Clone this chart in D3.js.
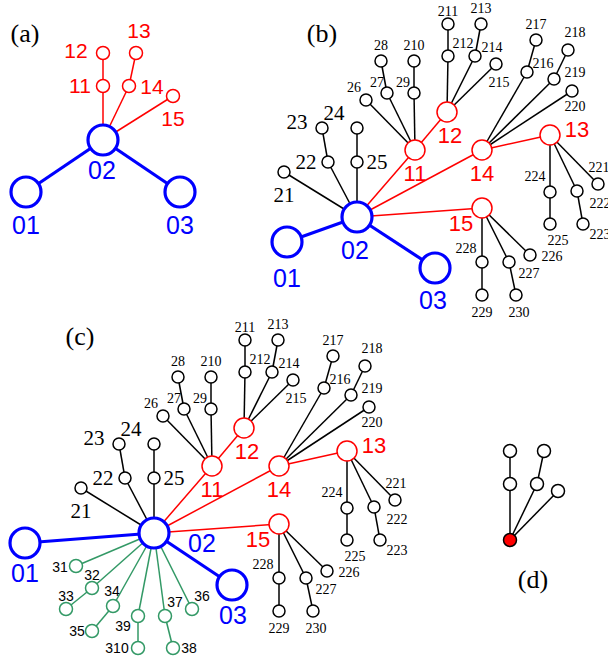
<!DOCTYPE html>
<html><head><meta charset="utf-8">
<script src="https://cdn.jsdelivr.net/npm/d3@7"></script>
<style>html,body{margin:0;padding:0;background:#fff}svg{display:block}</style>
</head><body>
<script>
// ---------- DATA ----------
const panelLabels = ["(a)", "(b)", "(c)", "(d)"];
// panel anchors (position of the root node 02 / red node in each panel)
const panelRoots = { a: [103, 140], b: [357, 217], c: [154, 533], d: [510, 540] };
const panelLabelPos = { a: [25, 33], b: [322, 33], c: [80, 336], d: [533, 579] };

// Shared tree (panels b and c), coordinates relative to node 02
const treeIds   = ["11","12","14","13","15","21","22","23","25","24","26","27","28","29","210","212","211","213","214","215","216","217","219","218","220","224","225","222","223","221","228","229","227","230","226"];
const treeX     = [58, 90, 125, 193, 125, -73, -29, -35, 0, 0, 9, 30, 24, 57, 57, 91, 91, 124, 118, 139, 170, 179, 197, 211, 215, 193, 193, 220, 226, 241, 125, 125, 152, 159, 173];
const treeY     = [-67, -105, -67, -82, -9, -45, -55, -89, -55, -89, -117, -124, -156, -124, -156, -161, -193, -193, -161, -153, -145, -177, -138, -167, -126, -25, 7, -26, 7, -33, 45, 78, 45, 78, 38];
const treeLevel = [1,1,1,1,1, 2,2,2,2,2, 3,3,3,3,3,3,3,3,3,3,3,3,3,3,3,3,3,3,3,3,3,3,3,3,3];
const treeLabelDx = [0, 3, 0, 27, -21, 0, -22, -25, 20, -23, -12, -10, 0, -11, 0, 15, 0, 0, 17, 3, 16, 0, 21, 7, 3, -15, 8, 23, 17, 1, -16, 0, 20, 3, 22];
const treeLabelDy = [23, 23, 23, -6, 15, 23, 0, -6, 0, -15, -13, -11, -16, -11, -16, -13, -13, -16, -9, 18, -9, -16, -7, -18, 15, -16, 16, 12, 10, -17, -14, 17, 11, 17, 1];
const treeEdges = [["02","11"],["11","12"],["02","14"],["14","13"],["02","15"],
  ["02","21"],["02","22"],["22","23"],["02","25"],["25","24"],
  ["11","26"],["11","27"],["27","28"],["11","29"],["29","210"],
  ["12","212"],["212","211"],["12","214"],["214","213"],["12","215"],
  ["14","216"],["216","217"],["14","219"],["219","218"],["14","220"],
  ["13","224"],["224","225"],["13","222"],["222","223"],["13","221"],
  ["15","228"],["228","229"],["15","227"],["227","230"],["15","226"]];

// Blue hub nodes per panel (relative to 02)
const hubIds = ["02","01","03"];
const hubA = { x: [0, -77, 77],  y: [0, 52, 52],  ldx: [-1, 0, 0], ldy: [30, 33, 33] };
const hubB = { x: [0, -70, 78],  y: [0, 25, 51],  ldx: [-2, 0, -2], ldy: [33, 36, 32] };
const hubC = { x: [0, -129, 78], y: [0, 10, 52],  ldx: [48, 0, 1], ldy: [10, 30, 30] };

// Panel (a): red nodes
const aIds = ["11","12","14","13","15"];
const aX = [0, 0, 26, 33, 70];
const aY = [-54, -87, -54, -87, -44];
const aLdx = [-23, -27, 23, 3, 0];
const aLdy = [-1, -3, 0, -23, 22];
const aEdges = [["02","11"],["11","12"],["02","14"],["14","13"],["02","15"]];

// Panel (c): green nodes
const gIds = ["31","32","33","34","35","39","310","37","38","36"];
const gX = [-78, -62, -88, -41, -62, -16, -16, 11, 19, 38];
const gY = [33, 55, 76, 73, 98, 83, 115, 83, 115, 76];
const gLdx = [-16, 0, 0, -1, -15, -15, -21, 10, 16, 10];
const gLdy = [1, -13, -13, -15, 0, 10, 0, -14, 0, -13];
const gEdges = [["02","31"],["02","32"],["32","33"],["02","34"],["34","35"],["02","39"],["39","310"],["02","37"],["37","38"],["02","36"]];

// Panel (d): motif
const dIds = ["r","n1","n2","n3","n4","n5"];
const dX = [0, 0, 0, 27, 34, 48];
const dY = [0, -56, -89, -56, -89, -49];
const dEdges = [["r","n1"],["n1","n2"],["r","n3"],["n3","n4"],["r","n5"]];

// ---------- STYLES ----------
const BLUE = "#0000ff", RED = "#ff0000", GREEN = "#339966", BLACK = "#000";
const SANS = "'Liberation Sans', Arial, sans-serif";
const SERIF = "'Liberation Serif', 'Times New Roman', serif";

const W = 608, H = 662;
const svg = d3.select("body").append("svg").attr("width", W).attr("height", H);

function panelScales(key) {
  const [cx, cy] = panelRoots[key];
  return {
    x: d3.scaleLinear().domain([-300, 300]).range([cx - 300, cx + 300]),
    y: d3.scaleLinear().domain([-300, 300]).range([cy - 300, cy + 300])
  };
}

function drawPanel(key, nodes, edges) {
  const s = panelScales(key);
  const g = svg.append("g").attr("class", "panel-" + key);
  const byId = new Map(nodes.map(n => [n.id, n]));
  g.append("g").selectAll("line").data(edges).join("line")
    .attr("x1", e => s.x(byId.get(e.s).x)).attr("y1", e => s.y(byId.get(e.s).y))
    .attr("x2", e => s.x(byId.get(e.t).x)).attr("y2", e => s.y(byId.get(e.t).y))
    .attr("stroke", e => e.color).attr("stroke-width", e => e.w);
  g.append("g").selectAll("circle").data(nodes).join("circle")
    .attr("cx", d => s.x(d.x)).attr("cy", d => s.y(d.y)).attr("r", d => d.r)
    .attr("fill", d => d.fill || "#fff").attr("stroke", d => d.color).attr("stroke-width", d => d.sw);
  g.append("g").selectAll("text").data(nodes.filter(d => d.label)).join("text")
    .attr("x", d => s.x(d.x + d.ldx)).attr("y", d => s.y(d.y + d.ldy))
    .attr("text-anchor", "middle").attr("dominant-baseline", "central")
    .attr("font-family", d => d.font).attr("font-size", d => d.fs)
    .attr("fill", d => d.tcolor || d.color).text(d => d.label);
}

function hubNodes(h) {
  return hubIds.map((id, i) => ({ id, x: h.x[i], y: h.y[i], r: 15, color: BLUE, sw: 3.2,
    label: id, ldx: h.ldx[i], ldy: h.ldy[i], font: SANS, fs: 25 }));
}
function treeNodes() {
  return treeIds.map((id, i) => {
    const lv = treeLevel[i];
    if (lv === 1) return { id, x: treeX[i], y: treeY[i], r: 10, color: RED, sw: 1.5, label: id,
      ldx: treeLabelDx[i], ldy: treeLabelDy[i], font: SANS, fs: 22 };
    return { id, x: treeX[i], y: treeY[i], r: 6, color: BLACK, sw: 1.5, label: id,
      ldx: treeLabelDx[i], ldy: treeLabelDy[i], font: SERIF, fs: lv === 2 ? 21 : 14 };
  });
}
function treeEdgeList() {
  const lvl = new Map(treeIds.map((id, i) => [id, treeLevel[i]]));
  return treeEdges.map(([s, t]) => ({ s, t, color: lvl.get(t) === 1 ? RED : BLACK, w: 1.5 }));
}
const hubEdges = h => [{ s: "02", t: "01", color: BLUE, w: 3.2 }, { s: "02", t: "03", color: BLUE, w: 3.2 }];

// Panel (a)
drawPanel("a",
  [...aIds.map((id, i) => ({ id, x: aX[i], y: aY[i], r: 6.5, color: RED, sw: 1.5, label: id,
    ldx: aLdx[i], ldy: aLdy[i], font: SANS, fs: 21 })), ...hubNodes(hubA)],
  [...aEdges.map(([s, t]) => ({ s, t, color: RED, w: 1.5 })), ...hubEdges(hubA)]);

// Panel (b)
drawPanel("b", [...treeNodes(), ...hubNodes(hubB)], [...treeEdgeList(), ...hubEdges(hubB)]);

// Panel (c)
drawPanel("c",
  [...treeNodes(), ...gIds.map((id, i) => ({ id, x: gX[i], y: gY[i], r: 6.5, color: GREEN, sw: 1.5,
    label: id, ldx: gLdx[i], ldy: gLdy[i], font: SANS, fs: 14, tcolor: BLACK })), ...hubNodes(hubC)],
  [...treeEdgeList(), ...gEdges.map(([s, t]) => ({ s, t, color: GREEN, w: 1.5 })), ...hubEdges(hubC)]);

// Panel (d)
drawPanel("d",
  dIds.map((id, i) => ({ id, x: dX[i], y: dY[i], r: 6.5, color: BLACK, sw: 1.5,
    fill: i === 0 ? RED : "#fff", label: null })),
  dEdges.map(([s, t]) => ({ s, t, color: BLACK, w: 1.5 })));

// Panel letters
svg.append("g").selectAll("text").data(["a","b","c","d"]).join("text")
  .attr("x", k => panelLabelPos[k][0]).attr("y", k => panelLabelPos[k][1])
  .attr("text-anchor", "middle").attr("dominant-baseline", "central")
  .attr("font-family", SERIF).attr("font-size", 26).attr("fill", BLACK)
  .text((k, i) => panelLabels[i]);
</script>
</body></html>
